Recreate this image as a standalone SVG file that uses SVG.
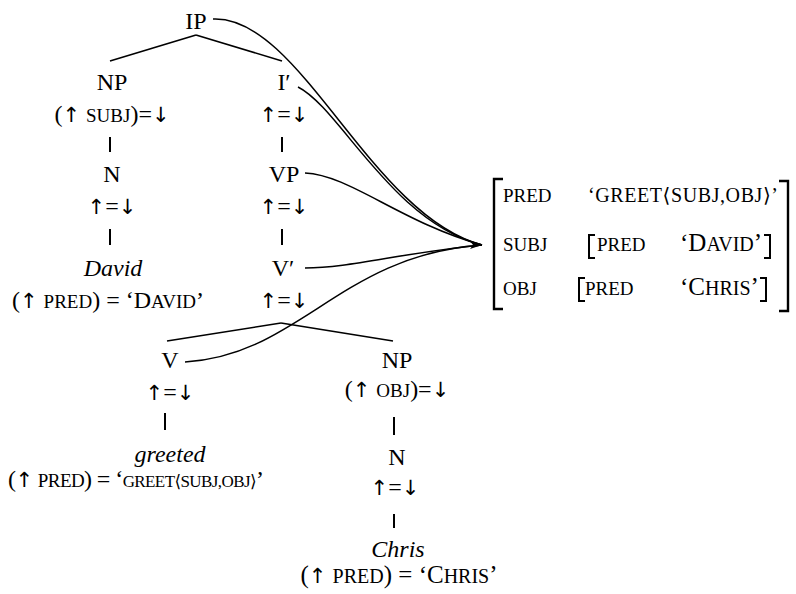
<svg xmlns="http://www.w3.org/2000/svg" width="796" height="594" viewBox="0 0 796 594">
<style>
.t{font-family:"Liberation Serif","DejaVu Serif",serif;font-size:24px;fill:#000}
.m{text-anchor:middle}
.sc{font-size:19px}
.sc2{font-size:17px}
.f{font-size:25px}
.fsc{font-size:20px}
.ar{font-family:"DejaVu Sans","DejaVu Serif",sans-serif;font-size:21px;fill:#000}
.it{font-style:italic}
.ln{stroke:#000;stroke-width:1.6;fill:none}
.bar{stroke:#000;stroke-width:2;fill:none}
.cv{stroke:#000;stroke-width:1.5;fill:none}
.br{stroke:#000;stroke-width:2.4;fill:none}
</style>
<defs>
<marker id="ah" viewBox="0 0 12 8" refX="12" refY="4" markerWidth="12" markerHeight="8" markerUnits="userSpaceOnUse" orient="0">
<path d="M0,0 L12,4 L0,8 L3,4 Z" fill="#000"/>
</marker>
</defs>
<rect width="796" height="594" fill="#fff"/>
<g id="connectors">
<line class="ln" x1="196" y1="35" x2="110" y2="61"/>
<line class="ln" x1="196" y1="35" x2="282" y2="61"/>
<line class="bar" x1="110" y1="137" x2="110" y2="152"/>
<line class="bar" x1="282" y1="137" x2="282" y2="152"/>
<line class="bar" x1="110" y1="229" x2="110" y2="245"/>
<line class="bar" x1="282" y1="229" x2="282" y2="245"/>
<line class="ln" x1="281" y1="323" x2="167" y2="341"/>
<line class="ln" x1="281" y1="323" x2="393" y2="341"/>
<line class="bar" x1="165" y1="413" x2="165" y2="430"/>
<line class="bar" x1="394" y1="417" x2="394" y2="435"/>
<line class="bar" x1="394" y1="514" x2="394" y2="528"/>
<path class="cv" d="M213,19 C300,15 370,215 482,245"/>
<path class="cv" d="M298,87 C340,108 392,222 482,245"/>
<path class="cv" d="M305,173 C350,175 400,222 482,245"/>
<path class="cv" d="M305,268 C350,268 400,253 482,245" marker-end="url(#ah)"/>
<path class="cv" d="M185,362 C300,355 340,255 482,245"/>
</g>
<g id="n-IP"><text class="t m" x="196" y="29">IP</text></g>
<g id="n-NP-subj"><text class="t m" x="112" y="90">NP</text>
<text class="t m" x="112" y="122">(<tspan class="ar">↑</tspan> <tspan class="sc">SUBJ</tspan>)=<tspan class="ar">↓</tspan></text></g>
<g id="n-Ibar"><text class="t m" x="284" y="90">I′</text>
<text class="t m" x="284" y="122"><tspan class="ar">↑</tspan>=<tspan class="ar">↓</tspan></text></g>
<g id="n-N-david"><text class="t m" x="112" y="182">N</text>
<text class="t m" x="112" y="214"><tspan class="ar">↑</tspan>=<tspan class="ar">↓</tspan></text></g>
<g id="n-VP"><text class="t m" x="284" y="182">VP</text>
<text class="t m" x="284" y="214"><tspan class="ar">↑</tspan>=<tspan class="ar">↓</tspan></text></g>
<g id="n-david"><text class="t m it" x="113" y="276">David</text>
<text class="t m" x="108" y="308">(<tspan class="ar">↑</tspan> <tspan class="sc">PRED</tspan>) = ‘D<tspan class="sc">AVID</tspan>’</text></g>
<g id="n-Vbar"><text class="t m" x="283" y="276">V′</text>
<text class="t m" x="284" y="308"><tspan class="ar">↑</tspan>=<tspan class="ar">↓</tspan></text></g>
<g id="n-V"><text class="t m" x="170" y="368">V</text>
<text class="t m" x="170" y="400"><tspan class="ar">↑</tspan>=<tspan class="ar">↓</tspan></text></g>
<g id="n-NP-obj"><text class="t m" x="397" y="368">NP</text>
<text class="t m" x="397" y="397">(<tspan class="ar">↑</tspan> <tspan class="sc">OBJ</tspan>)=<tspan class="ar">↓</tspan></text></g>
<g id="n-greeted"><text class="t m it" x="170" y="462">greeted</text>
<text class="t" x="8" y="487" textLength="256">(<tspan class="ar">↑</tspan> <tspan class="sc">PRED</tspan>) = ‘<tspan class="sc2">GREET⟨SUBJ,OBJ⟩</tspan>’</text></g>
<g id="n-N-chris"><text class="t m" x="397" y="465">N</text>
<text class="t m" x="395" y="495"><tspan class="ar">↑</tspan>=<tspan class="ar">↓</tspan></text></g>
<g id="n-chris"><text class="t m it" x="398" y="557">Chris</text>
<text class="t m f" x="399" y="583">(<tspan class="ar">↑</tspan> <tspan class="fsc">PRED</tspan>) = ‘C<tspan class="fsc">HRIS</tspan>’</text></g>
<g id="fstructure">
<path class="br" d="M503,179 L494,179 L494,309 L503,309"/>
<path class="br" d="M779,181 L788,181 L788,311 L779,311"/>
<text class="t sc" x="503" y="202">PRED</text>
<text class="t fsc" x="588" y="202" textLength="190">‘GREET⟨SUBJ,OBJ⟩’</text>
<text class="t sc" x="503" y="251">SUBJ</text>
<path class="bar" d="M595,235 L589,235 L589,258 L595,258"/>
<text class="t sc" x="597" y="251">PRED</text>
<text class="t f" x="680" y="251">‘D<tspan class="fsc">AVID</tspan>’</text>
<path class="bar" d="M764,235 L770,235 L770,258 L764,258"/>
<text class="t sc" x="503" y="295">OBJ</text>
<path class="bar" d="M585,278 L579,278 L579,301 L585,301"/>
<text class="t sc" x="585" y="295">PRED</text>
<text class="t f" x="680" y="295">‘C<tspan class="fsc">HRIS</tspan>’</text>
<path class="bar" d="M760,278 L766,278 L766,301 L760,301"/>
</g>
</svg>
